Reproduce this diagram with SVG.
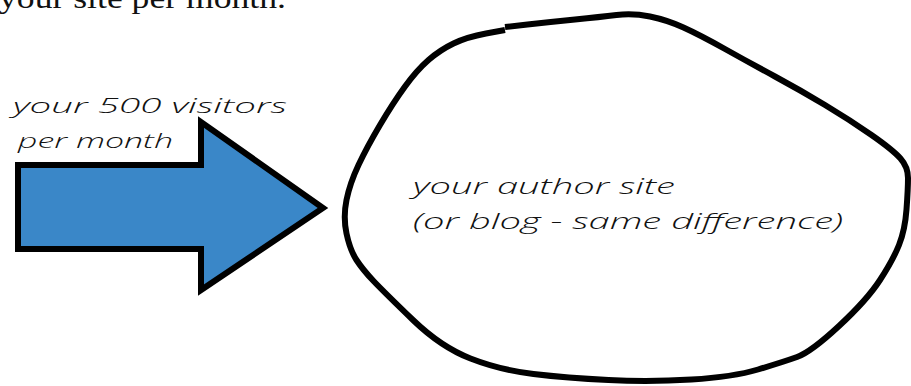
<svg xmlns="http://www.w3.org/2000/svg" width="911" height="386" viewBox="0 0 911 386">
<style>
.hand{font-family:"Open Sans","DejaVu Sans",sans-serif;font-style:italic;font-weight:300;fill:#111;}
.serif{font-family:"Liberation Serif","Times New Roman",serif;fill:#111;}
</style>
<rect x="0" y="0" width="911" height="386" fill="#fff"/>
<text class="serif" x="-1" y="7.5" font-size="30" textLength="287" lengthAdjust="spacingAndGlyphs">your site per month.</text>
<g id="visitors">
<polygon points="18,165 201,165 201,122 323,208 201,290 201,249 18,249" fill="#3A87C8" stroke="#000" stroke-width="6" stroke-linejoin="miter"/>
<text class="hand" x="13" y="113" font-size="21" textLength="274" lengthAdjust="spacingAndGlyphs">your 500 visitors</text>
<text class="hand" x="18" y="148" font-size="21" textLength="155" lengthAdjust="spacingAndGlyphs">per month</text>
</g>
<g id="site">
<path d="M 505,27 L 527.5,24.5 Q 550,22 575,19.5 Q 600,17 616.5,15 Q 633,13 650,16.5 Q 667,20 683.5,27.5 Q 700,35 725,49 Q 750,63 775,76.5 Q 800,90 825,105 Q 850,120 871.5,135 Q 893,150 900.5,158.5 Q 908,167 908,178 Q 908,189 906.5,209.5 Q 905,230 899,245 Q 893,260 880,280 Q 867,300 839,326 Q 811,352 797,357 Q 783,362 758,369.5 Q 733,377 691.5,379.5 Q 650,382 608.5,380 Q 567,378 533.5,374 Q 500,370 470.5,358.5 Q 441,347 413,320 Q 385,293 374,281.5 Q 363,270 356.5,260 Q 350,250 346.5,233.5 Q 343,217 346.5,200 Q 350,183 358.5,165 Q 367,147 380,125 Q 393,103 405,86.5 Q 417,70 428.5,60 Q 440,50 453.5,43.5 Q 467,37 486,33.5 L 505,30" fill="none" stroke="#000" stroke-width="6" stroke-linecap="butt" stroke-linejoin="round"/>
<text class="hand" x="413" y="194" font-size="22" textLength="262" lengthAdjust="spacingAndGlyphs">your author site</text>
<text class="hand" x="413" y="229" font-size="22" textLength="430" lengthAdjust="spacingAndGlyphs">(or blog - same difference)</text>
</g>
<g id="connectors"></g>
</svg>
